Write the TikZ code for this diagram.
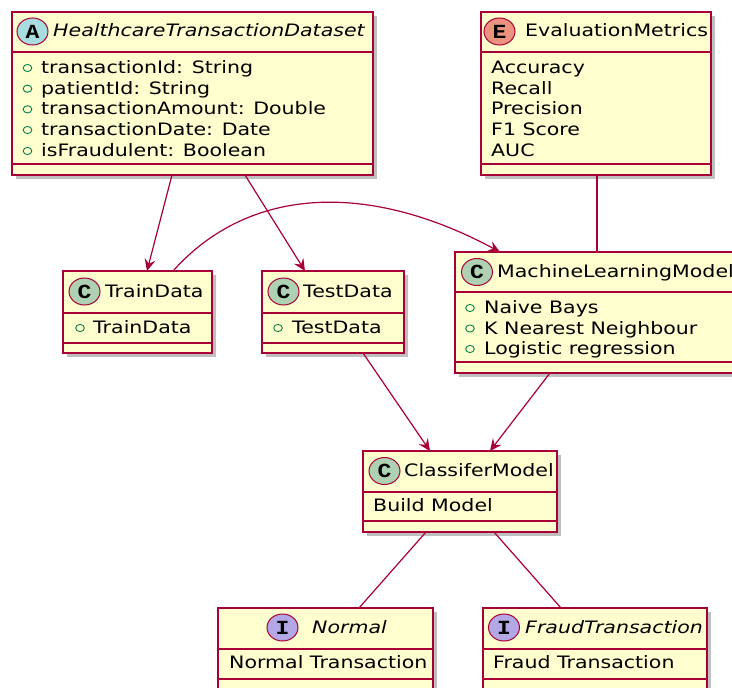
\documentclass[tikz,border=0pt]{standalone}
\usepackage{fontspec}
\setmainfont{DejaVu Sans}[FakeStretch=1.2]
\newfontfamily\letterfont{Liberation Mono}[FakeStretch=1.15]
\usetikzlibrary{arrows.meta,shadows,shapes.geometric}
\definecolor{umlborder}{HTML}{A80036}
\definecolor{umlfill}{HTML}{FEFECE}
\definecolor{cA}{HTML}{A9DCDF}
\definecolor{cC}{HTML}{ADD1B2}
\definecolor{cE}{HTML}{EB937F}
\definecolor{cI}{HTML}{B4A7E5}
\definecolor{umarkcol}{HTML}{038048}
\tikzset{
 ubox/.style={draw=umlborder, fill=umlfill, line width=1.2pt, inner sep=0pt, outer sep=0pt, anchor=north west,
   drop shadow={shadow xshift=4pt, shadow yshift=-4pt, opacity=0.25, fill=black}},
 usep/.style={draw=umlborder, line width=1.1pt},
 ucirc/.style={ellipse, draw=umlborder, line width=1pt, minimum width=31pt, minimum height=27pt, inner sep=0pt,
   font=\letterfont\bfseries\fontsize{20}{20}\selectfont},
 utitle/.style={anchor=base west, inner sep=0pt, font=\fontsize{17.1}{20}\selectfont},
 uline/.style={anchor=base west, inner sep=0pt, font=\fontsize{17.1}{20}\selectfont},
 umark/.style={draw=umarkcol, line width=0.9pt},
 assoc/.style={draw=umlborder, line width=1.2pt},
 arr/.style={assoc, -{Stealth[length=12pt, width=11pt, inset=4.5pt]}},
}
\newcommand{\umlbox}[7]{%
 \node[ubox, minimum width={(#4-#2)*1pt}, minimum height={(#5-#3)*1pt}] (#1) at (#2,#3) {};
 \draw[usep] (#2,#6) -- (#4,#6);
 \draw[usep] (#2,#7) -- (#4,#7);
}
\newcommand{\mk}[2]{\draw[umark] (#1,#2+1) ellipse (4.3pt and 3.6pt);}
\begin{document}
\begin{tikzpicture}[x=1pt,y=-1pt]
\path[use as bounding box] (0,0) rectangle (732,688);
\clip (0,0) rectangle (732,688);

% HealthcareTransactionDataset
\umlbox{htd}{12}{12}{373}{175}{52}{164}
\node[ucirc, fill=cA] (htdc) at (32.5,31.5) {A};
\node[utitle] (htdt) at (53,37) {\itshape HealthcareTransactionDataset};
\mk{27.5}{67}\node[uline] (htd1) at (41,73.5) {transactionId: String};
\mk{27.5}{87.7}\node[uline] (htd2) at (41,94.2) {patientId: String};
\mk{27.5}{108.3}\node[uline] (htd3) at (41,114.8) {transactionAmount: Double};
\mk{27.5}{129}\node[uline] (htd4) at (41,135.5) {transactionDate: Date};
\mk{27.5}{150}\node[uline] (htd5) at (41,156.5) {isFraudulent: Boolean};

% EvaluationMetrics
\umlbox{em}{481}{12}{711}{175}{52}{164}
\node[ucirc, fill=cE] (emc) at (499.5,31.5) {E};
\node[utitle] (emt) at (525,37) {EvaluationMetrics};
\node[uline] (em1) at (491,73.5) {Accuracy};
\node[uline] (em2) at (491,94.2) {Recall};
\node[uline] (em3) at (491,114.8) {Precision};
\node[uline] (em4) at (491,135.5) {F1 Score};
\node[uline] (em5) at (491,156.5) {AUC};

% MachineLearningModel
\umlbox{mlm}{455}{252}{745}{373}{292}{362}
\node[ucirc, fill=cC] (mlmc) at (477,272) {C};
\node[utitle] (mlmt) at (497,277.5) {MachineLearningModel};
\mk{470}{307}\node[uline] (mlm1) at (484,313.5) {Naive Bays};
\mk{470}{327.5}\node[uline] (mlm2) at (484,334) {K Nearest Neighbour};
\mk{470}{348}\node[uline] (mlm3) at (484,354.5) {Logistic regression};

% TrainData
\umlbox{train}{63}{271}{212}{353}{313}{343}
\node[ucirc, fill=cC] (trainc) at (84.5,291.5) {C};
\node[utitle] (traint) at (105,297) {TrainData};
\mk{80}{327}\node[uline] (train1) at (93,333.5) {TrainData};

% TestData
\umlbox{test}{262}{271}{404}{353}{313}{343}
\node[ucirc, fill=cC] (testc) at (283.5,291.5) {C};
\node[utitle] (testt) at (303,297) {TestData};
\mk{278}{327}\node[uline] (test1) at (292,333.5) {TestData};

% ClassiferModel
\umlbox{cls}{363}{451}{557}{532}{492}{521}
\node[ucirc, fill=cC] (clsc) at (384.5,471) {C};
\node[utitle] (clst) at (404,476.5) {ClassiferModel};
\node[uline] (cls1) at (373,511.5) {Build Model};

% Normal
\umlbox{normal}{218}{608}{433}{700}{649}{679}
\node[ucirc, fill=cI] (normalc) at (282.5,627.5) {I};
\node[utitle] (normalt) at (312,633) {\itshape Normal};
\node[uline] (normal1) at (229,668.5) {Normal Transaction};

% FraudTransaction
\umlbox{fraud}{483}{608}{707}{700}{649}{679}
\node[ucirc, fill=cI] (fraudc) at (504,627.5) {I};
\node[utitle] (fraudt) at (525,633) {\itshape FraudTransaction};
\node[uline] (fraud1) at (493,668.5) {Fraud Transaction};

% connectors
\draw[arr] ([xshift=160pt]htd.south west) -- ([xshift=84pt]train.north west);
\draw[arr] ([xshift=233pt]htd.south west) -- ([xshift=43pt]test.north west);
\draw[arr] ([xshift=110pt]train.north west) .. controls (250,185) and (370,182) .. ([xshift=45pt]mlm.north west);
\draw[assoc] ([xshift=116pt]em.south west) -- ([xshift=142pt]mlm.north west);
\draw[arr] ([xshift=101pt]test.south west) -- ([xshift=67pt]cls.north west);
\draw[arr] ([xshift=95pt]mlm.south west) -- ([xshift=127pt]cls.north west);
\draw[assoc] ([xshift=63pt]cls.south west) -- ([xshift=141pt]normal.north west);
\draw[assoc] ([xshift=131pt]cls.south west) -- ([xshift=78pt]fraud.north west);
\end{tikzpicture}
\end{document}
